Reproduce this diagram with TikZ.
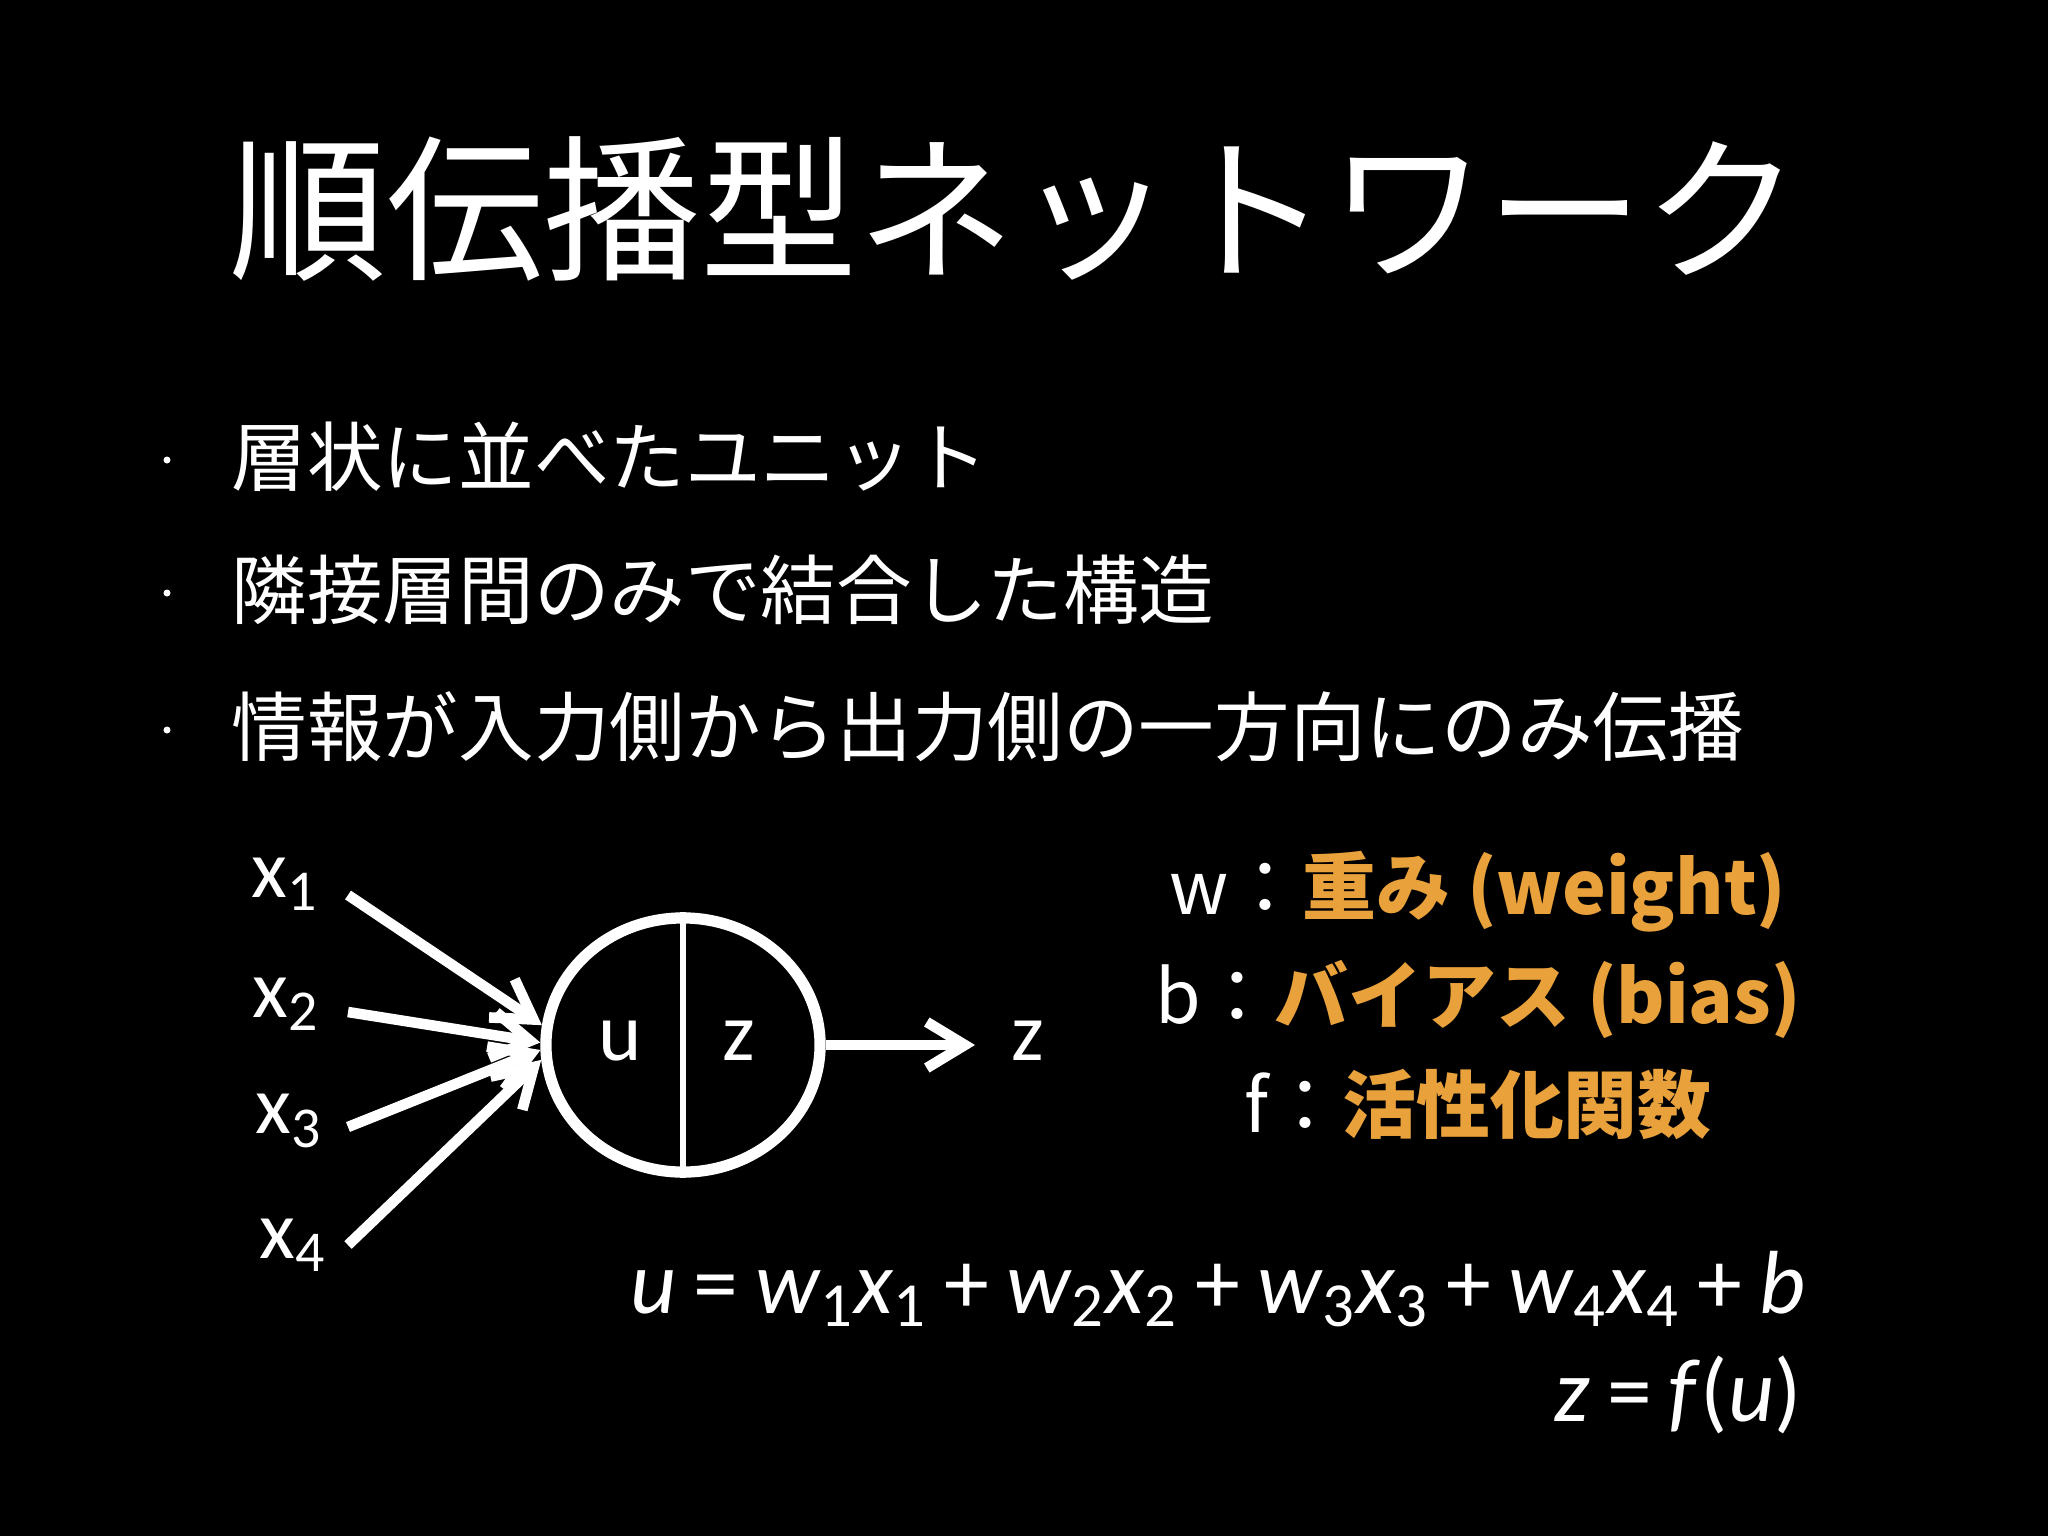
\documentclass[tikz,border=0pt]{standalone}
\usepackage{fontspec}
\setmainfont{Carlito}
\newfontfamily\jp{Noto Sans CJK JP}
\usetikzlibrary{arrows.meta,shapes.geometric}
\definecolor{accent}{HTML}{E9A23B}
\newcommand\mysub[2]{#1\textsubscript{#2}}
\newcommand\opsp{\hspace{0.19em}}
\begin{document}
\begin{tikzpicture}[x=0.01cm,y=-0.01cm,
  titletext/.style={font=\jp\fontsize{44.7}{50}\selectfont, text=white, inner sep=0},
  bullettext/.style={anchor=west, font=\jp\fontsize{21.5}{26}\selectfont, text=white, inner sep=0},
  bulletdot/.style={fill=white, circle, inner sep=0, minimum size=0.07cm},
  lbl/.style={font=\fontsize{23.5}{28}\selectfont, text=white, inner sep=0},
  legend/.style={font=\jp\fontsize{21}{25}\selectfont, text=white, inner sep=0},
  eqn/.style={font=\fontsize{25.5}{30}\selectfont, text=white, inner sep=0, anchor=east},
  wire/.style={draw=white, line width=3pt, -{Straight Barb[length=0.38cm,width=0.46cm]}},
  unitshape/.style={ellipse, draw=white, line width=3.2pt, minimum width=2.74cm, minimum height=2.54cm, inner sep=0}
]
\fill[black] (0,0) rectangle (2048,1536);
\useasboundingbox (0,0) rectangle (2048,1536);

% title
\node[titletext] (title) at (1015,209) {順伝播型ネットワーク};

% bullets
\node[bulletdot] (d1) at (167,460) {};
\node[bulletdot] (d2) at (167,593) {};
\node[bulletdot] (d3) at (167,730) {};
\node[bullettext] (b1) at (231,457) {層状に並べたユニット};
\node[bullettext] (b2) at (231,590) {隣接層間のみで結合した構造};
\node[bullettext] (b3) at (231,727) {情報が入力側から出力側の一方向にのみ伝播};

% unit
\node[unitshape] (unit) at (683,1045) {};
\draw[white, line width=1.8pt] (unit.north) -- (unit.south);
\node[lbl] (u) at (620,1041) {u};
\node[lbl] (zin) at (739,1041) {z};

% inputs
\node[lbl] (x1) at (285,884) {\mysub{x}{1}};
\node[lbl] (x2) at (286,1004) {\mysub{x}{2}};
\node[lbl] (x3) at (289,1121) {\mysub{x}{3}};
\node[lbl] (x4) at (293,1245) {\mysub{x}{4}};
\coordinate (s1) at (348,895);
\coordinate (s2) at (348,1012);
\coordinate (s3) at (348,1127);
\coordinate (s4) at (348,1245);
\draw[wire] (s1) -- (unit.172);
\draw[wire] (s2) -- (unit.179);
\draw[wire] (s3) -- (unit.182);
\draw[wire] (s4) -- (unit.186);

% output
\coordinate (oend) at (975,1045);
\draw[wire] (unit.east) -- (oend);
\node[lbl] (zout) at (1028,1041) {z};

% legend
\node[legend] (lw) at (1478,892) {w：{\bfseries\color{accent}重み (weight)}};
\node[legend] (lb) at (1478,999) {b：{\bfseries\color{accent}バイアス (bias)}};
\node[legend] (lf) at (1478,1104) {f：{\bfseries\color{accent}活性化関数}};

% equations
\node[eqn] (eq1) at (1806,1289) {\textit{u}\opsp=\opsp\mysub{\textit{w}}{1}\mysub{\textit{x}}{1}\opsp+\opsp\mysub{\textit{w}}{2}\mysub{\textit{x}}{2}\opsp+\opsp\mysub{\textit{w}}{3}\mysub{\textit{x}}{3}\opsp+\opsp\mysub{\textit{w}}{4}\mysub{\textit{x}}{4}\opsp+\opsp\textit{b}};
\node[eqn] (eq2) at (1802,1395) {\textit{z}\opsp=\opsp\textit{f}(\textit{u})};
\end{tikzpicture}
\end{document}
